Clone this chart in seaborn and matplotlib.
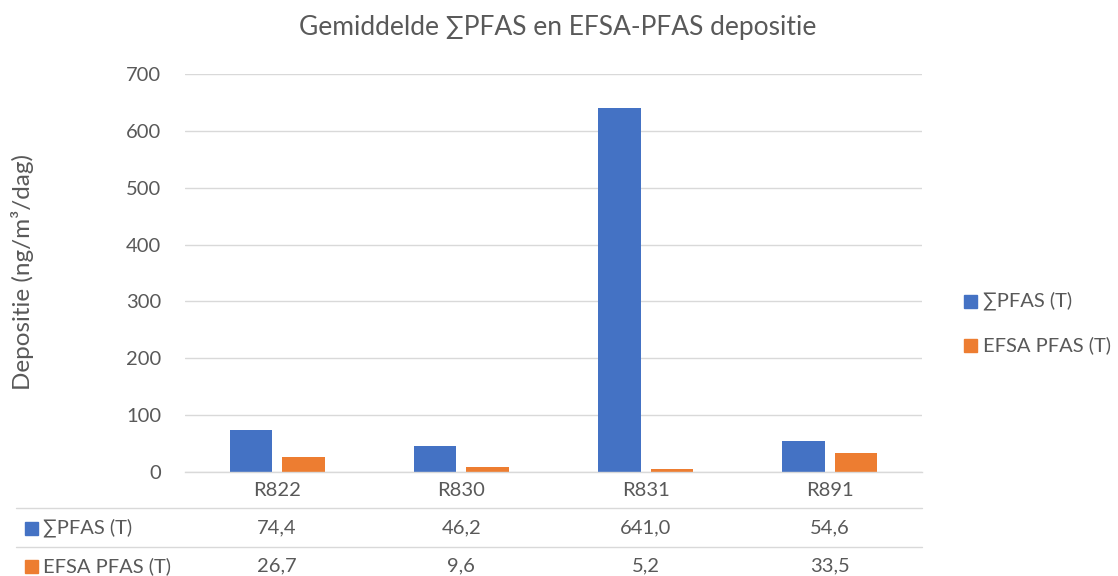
import matplotlib
matplotlib.use("Agg")
import matplotlib.pyplot as plt
import seaborn as sns
import pandas as pd
from matplotlib.lines import Line2D
from matplotlib.patches import Rectangle

categories = ["R822", "R830", "R831", "R891"]
series_names = ["∑PFAS (T)", "EFSA PFAS (T)"]
sum_pfas = [74.4, 46.2, 641.0, 54.6]
efsa_pfas = [26.7, 9.6, 5.2, 33.5]
colors = ["#4472C4", "#ED7D31"]
yticks = [0, 100, 200, 300, 400, 500, 600, 700]

title = "Gemiddelde ∑PFAS en EFSA-PFAS depositie"
ylabel = "Depositie (ng/m³/dag)"

df = pd.DataFrame({
    "cat": categories * 2,
    "val": sum_pfas + efsa_pfas,
    "series": [series_names[0]] * 4 + [series_names[1]] * 4,
})

sns.set_theme(style="white")
plt.rcParams["font.family"] = ["Lato", "DejaVu Sans"]
txt = "#595959"
grid = "#D9D9D9"
FS = 14.5

W, H = 1118, 576
fig = plt.figure(figsize=(W / 100, H / 100), dpi=100)
L, R, T, B = 185, 922, 74, 472
ax = fig.add_axes([L / W, 1 - B / H, (R - L) / W, (B - T) / H])

sns.barplot(data=df, x="cat", y="val", hue="series", palette=colors,
            width=0.57, gap=0.19, ax=ax, legend=False, saturation=1,
            linewidth=0, edgecolor="none")

ax.set_ylim(0, 700)
ax.set_xlim(-0.5, 3.5)
ax.set_yticks(yticks)
ax.set_yticklabels([str(v) for v in yticks], color=txt, fontsize=FS)
ax.tick_params(axis="y", length=0, pad=17)
ax.set_xticks([])
ax.set_xlabel("")
ax.set_ylabel("")
ax.yaxis.grid(True, color=grid, linewidth=1)
ax.set_axisbelow(True)
for s in ["top", "right", "left"]:
    ax.spines[s].set_visible(False)
ax.spines["bottom"].set_color(grid)
ax.spines["bottom"].set_linewidth(1)

fig.text(558 / W, 1 - 27 / H, title, ha="center", va="center", fontsize=19, color=txt)
fig.text(23 / W, 1 - 272 / H, ylabel, rotation=90, ha="center", va="center",
         fontsize=17.5, color=txt)

# Legend
for i, (name, c) in enumerate(zip(series_names, colors)):
    yc = [301, 345][i]
    fig.patches.append(Rectangle((964 / W, 1 - (yc + 6.5) / H), 13 / W, 13 / H,
                                 transform=fig.transFigure, color=c))
    fig.text(983 / W, 1 - yc / H, name, ha="left", va="center", fontsize=FS, color=txt)

# Data table
trans = matplotlib.transforms.blended_transform_factory(ax.transData, fig.transFigure)
for i, c in enumerate(categories):
    fig.text(i, 1 - 490 / H, c, transform=trans, ha="center", va="center",
             fontsize=FS, color=txt)
rows = [sum_pfas, efsa_pfas]
row_y = [528, 566]
for r, (vals, name, c) in enumerate(zip(rows, series_names, colors)):
    yc = row_y[r]
    for i, v in enumerate(vals):
        fig.text(i, 1 - yc / H, f"{v:.1f}".replace(".", ","), transform=trans,
                 ha="center", va="center", fontsize=FS, color=txt)
    fig.patches.append(Rectangle((25 / W, 1 - (yc + 6.5) / H), 13 / W, 13 / H,
                                 transform=fig.transFigure, color=c))
    fig.text(43 / W, 1 - yc / H, name, ha="left", va="center", fontsize=FS, color=txt)

for yl in [508, 547]:
    fig.add_artist(Line2D([16 / W, R / W], [1 - yl / H, 1 - yl / H],
                          transform=fig.transFigure, color=grid, linewidth=1))

fig.savefig("out.png", dpi=100)
